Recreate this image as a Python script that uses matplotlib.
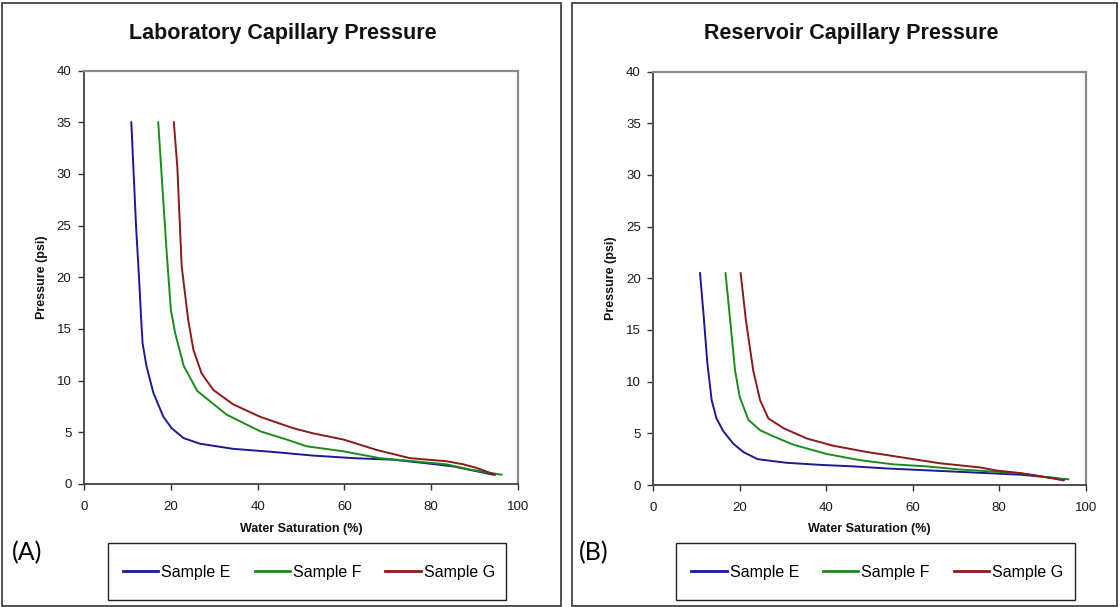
import matplotlib
matplotlib.use("Agg")
import matplotlib.pyplot as plt
from matplotlib.patches import Rectangle
from matplotlib.lines import Line2D

# ---------------- data ----------------
labels = ["Sample E", "Sample F", "Sample G"]
colors = ["#1a1a96", "#1a8c1a", "#8c1a1a"]

lab_E_sw = [10.9, 12.0, 12.7, 13.1, 13.5, 14.4, 16.0, 18.3, 20.2, 22.9, 26.7, 34.4, 43.6, 52.8, 62.1, 71.3, 79.0, 85.1, 89.7, 94.3]
lab_E_pc = [35.0, 24.9, 19.8, 16.5, 13.6, 11.4, 8.8, 6.5, 5.4, 4.45, 3.9, 3.4, 3.1, 2.75, 2.5, 2.35, 2.0, 1.7, 1.3, 0.9]

lab_F_sw = [17.1, 17.9, 19.0, 20.0, 21.0, 23.0, 26.1, 32.9, 40.6, 46.7, 51.3, 59.8, 68.2, 75.9, 83.6, 88.9, 96.2]
lab_F_pc = [35.0, 29.8, 22.7, 16.9, 14.6, 11.4, 9.0, 6.7, 5.1, 4.3, 3.65, 3.16, 2.5, 2.2, 1.9, 1.4, 0.9]

lab_G_sw = [20.7, 21.5, 22.5, 24.0, 25.2, 27.1, 29.8, 34.4, 40.6, 48.2, 52.8, 59.8, 67.4, 75.1, 83.6, 87.4, 90.5, 94.7]
lab_G_pc = [35.0, 30.7, 21.1, 15.9, 13.0, 10.7, 9.1, 7.7, 6.5, 5.4, 4.9, 4.3, 3.3, 2.5, 2.2, 1.9, 1.55, 0.9]

res_E_sw = [10.8, 11.6, 12.5, 13.5, 14.6, 16.2, 18.5, 20.8, 24.1, 30.8, 38.5, 46.3, 54.0, 61.7, 69.4, 77.1, 84.8, 92.5, 95.0]
res_E_pc = [20.5, 16.6, 11.8, 8.2, 6.45, 5.2, 4.0, 3.2, 2.5, 2.15, 1.95, 1.8, 1.6, 1.45, 1.3, 1.15, 1.0, 0.7, 0.5]

res_F_sw = [16.7, 18.0, 18.9, 20.0, 22.0, 24.7, 27.8, 32.4, 40.1, 47.8, 55.5, 63.2, 70.9, 78.6, 84.8, 91.0, 96.0]
res_F_pc = [20.5, 15.0, 11.1, 8.5, 6.3, 5.3, 4.7, 3.9, 3.0, 2.4, 2.0, 1.8, 1.5, 1.3, 1.15, 0.75, 0.55]

res_G_sw = [20.2, 21.4, 23.1, 24.7, 26.6, 30.1, 35.5, 41.6, 49.3, 58.6, 66.3, 75.6, 79.4, 84.8, 90.2, 94.8]
res_G_pc = [20.5, 16.0, 11.1, 8.2, 6.45, 5.5, 4.5, 3.8, 3.2, 2.6, 2.1, 1.7, 1.4, 1.15, 0.8, 0.45]

x_ticks = [0, 20, 40, 60, 80, 100]
y_ticks = [0, 5, 10, 15, 20, 25, 30, 35, 40]

titles = ["Laboratory Capillary Pressure", "Reservoir Capillary Pressure"]
panel_tags = ["(A)", "(B)"]
xlabel = "Water Saturation (%)"
ylabel = "Pressure (psi)"

# ---------------- layout ----------------
W, H = 1120, 607
fig = plt.figure(figsize=(W / 100, H / 100), dpi=100)
plt.rcParams["font.family"] = ["Liberation Sans", "DejaVu Sans"]

def fx(px):
    return px / W

def fy(py):
    return 1 - py / H

panels = [
    dict(box=(2, 3, 560.7, 605.7), ax=(84, 70.6, 518, 484), leg=(108, 543, 506, 600),
         tag=(12, 553),
         data=[(lab_E_sw, lab_E_pc), (lab_F_sw, lab_F_pc), (lab_G_sw, lab_G_pc)]),
    dict(box=(571.7, 3, 1117, 605.7), ax=(653.3, 71.6, 1085.7, 485), leg=(676, 543, 1075, 600),
         tag=(579, 553),
         data=[(res_E_sw, res_E_pc), (res_F_sw, res_F_pc), (res_G_sw, res_G_pc)]),
]

for i, p in enumerate(panels):
    x0, y0, x1, y1 = p["box"]
    fig.patches.append(Rectangle((fx(x0), fy(y1)), fx(x1 - x0), (y1 - y0) / H,
                                 transform=fig.transFigure, fill=False,
                                 edgecolor="#333333", linewidth=1.2))
    ax0, ay0, ax1, ay1 = p["ax"]
    ax = fig.add_axes([fx(ax0), fy(ay1), fx(ax1 - ax0), (ay1 - ay0) / H])
    for (sw, pc), c, lb in zip(p["data"], colors, labels):
        ax.plot(sw, pc, color=c, lw=1.4, label=lb, solid_joinstyle="round")
    ax.set_xlim(0, 100)
    ax.set_ylim(0, 40)
    ax.set_xticks(x_ticks)
    ax.set_yticks(y_ticks)
    ax.tick_params(axis="both", direction="out", length=4, width=1.0,
                   labelsize=9.5, colors="#333333", labelcolor="#1a1a1a")
    ax.tick_params(axis="y", pad=5)
    ax.tick_params(axis="x", pad=8)
    for s in ["left", "bottom"]:
        ax.spines[s].set_color("#404040")
        ax.spines[s].set_linewidth(1.3)
    for s in ["top", "right"]:
        ax.spines[s].set_color("#8a8a8a")
        ax.spines[s].set_linewidth(1.6)

    cx = (ax0 + ax1) / 2
    fig.text(fx(cx - 18), fy(34), titles[i], ha="center", va="center",
             fontsize=15.5, fontweight="bold", color="#111111")
    fig.text(fx(cx), fy(529), xlabel, ha="center", va="center",
             fontsize=9, fontweight="bold", color="#111111")
    fig.text(fx(ax0 - 42), fy((ay0 + ay1) / 2), ylabel, ha="center", va="center",
             rotation=90, fontsize=9, fontweight="bold", color="#111111")
    tx, ty = p["tag"]
    fig.text(fx(tx), fy(ty), panel_tags[i], ha="left", va="center",
             fontsize=18, family=["Lato", "DejaVu Sans"], color="#000000")

    lx0, ly0, lx1, ly1 = p["leg"]
    fig.patches.append(Rectangle((fx(lx0), fy(ly1)), fx(lx1 - lx0), (ly1 - ly0) / H,
                                 transform=fig.transFigure, fill=False,
                                 edgecolor="#222222", linewidth=1.0))
    handles = [Line2D([], [], color=c, lw=2.0) for c in colors]
    fig.legend(handles, labels, loc="center",
               bbox_to_anchor=(fx((lx0 + lx1) / 2 + 2), fy((ly0 + ly1) / 2 + 1)),
               bbox_transform=fig.transFigure, ncol=3, frameon=False,
               fontsize=11.5, handlelength=2.2, handletextpad=0.2,
               columnspacing=1.5, borderpad=0)

fig.savefig("out.png", dpi=100)
